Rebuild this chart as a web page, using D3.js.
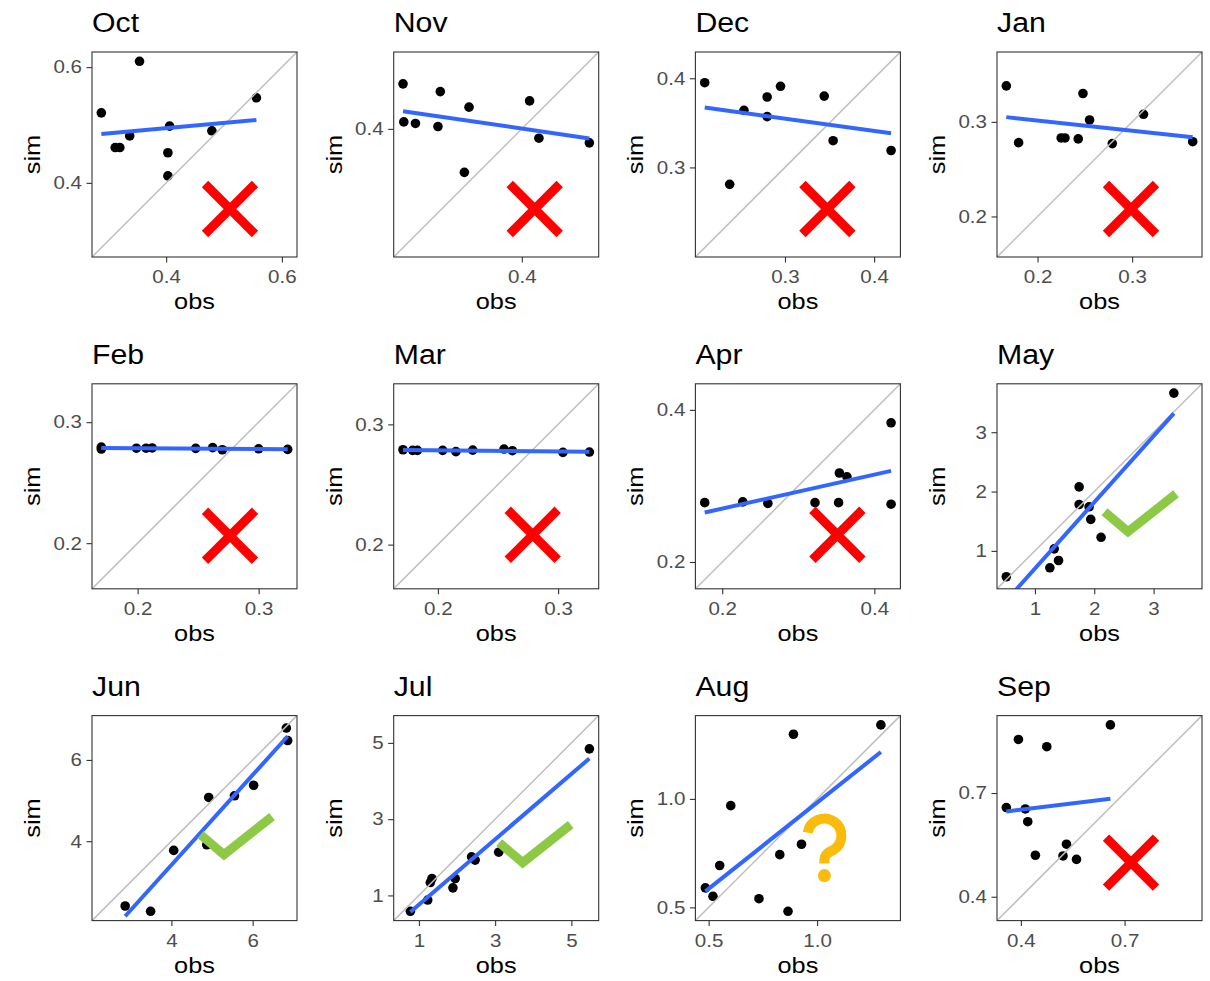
<!DOCTYPE html>
<html>
<head>
<meta charset="utf-8">
<script src="https://cdn.jsdelivr.net/npm/d3@7"></script>
<style>
  body { margin: 0; background: #fff; }
  svg { display: block; font-family: "Liberation Sans", Arial, sans-serif; }
  /* the reference glyphs run a bit wider than Liberation Sans */
  .wide { transform-box: fill-box; transform: scaleX(1.13); }
  .wide.mid { transform-origin: 50% 50%; }
  .wide.end { transform-origin: 100% 50%; }
  .wide.start { transform-origin: 0% 50%; }
</style>
</head>
<body>
<svg id="chart"></svg>
<script>
// Panel titles (one small scatter per month)
const months = ["Oct", "Nov", "Dec", "Jan", "Feb", "Mar", "Apr", "May", "Jun", "Jul", "Aug", "Sep"];

// Observed values, one list per month
const obsValues = [
    [0.288, 0.354, 0.312, 0.320, 0.337, 0.406, 0.403, 0.403, 0.479, 0.556],
    [0.247, 0.248, 0.263, 0.295, 0.292, 0.332, 0.326, 0.410, 0.422, 0.487],
    [0.210, 0.238, 0.254, 0.280, 0.280, 0.295, 0.344, 0.354, 0.419],
    [0.167, 0.180, 0.225, 0.229, 0.243, 0.248, 0.255, 0.279, 0.312, 0.364],
    [0.170, 0.170, 0.199, 0.207, 0.212, 0.248, 0.262, 0.270, 0.300, 0.324],
    [0.171, 0.179, 0.183, 0.204, 0.215, 0.229, 0.255, 0.262, 0.304, 0.326],
    [0.177, 0.227, 0.260, 0.322, 0.353, 0.354, 0.364, 0.422, 0.422],
    [0.518, 1.252, 1.398, 1.325, 1.745, 1.745, 1.913, 1.941, 2.115, 3.342],
    [2.862, 3.488, 4.057, 4.870, 4.919, 5.553, 6.024, 6.829, 6.862],
    [0.777, 1.232, 1.300, 1.343, 1.893, 1.953, 2.382, 2.476, 3.094, 5.472],
    [0.485, 0.520, 0.551, 0.602, 0.732, 0.828, 0.866, 0.891, 0.928, 1.294],
    [0.358, 0.393, 0.413, 0.420, 0.442, 0.475, 0.522, 0.532, 0.561, 0.659]
];

// Simulated values, same order as obsValues
const simValues = [
    [0.521, 0.610, 0.461, 0.461, 0.481, 0.498, 0.452, 0.412, 0.490, 0.547],
    [0.458, 0.409, 0.407, 0.448, 0.403, 0.428, 0.344, 0.436, 0.388, 0.382],
    [0.395, 0.281, 0.364, 0.379, 0.357, 0.391, 0.380, 0.330, 0.319],
    [0.338, 0.278, 0.283, 0.283, 0.282, 0.330, 0.302, 0.277, 0.308, 0.279],
    [0.2794, 0.2778, 0.2785, 0.2785, 0.2787, 0.2783, 0.2790, 0.2772, 0.2780, 0.2775],
    [0.2789, 0.2784, 0.2784, 0.2784, 0.2773, 0.2786, 0.2795, 0.2781, 0.2767, 0.2770],
    [0.278, 0.279, 0.277, 0.278, 0.278, 0.317, 0.312, 0.383, 0.276],
    [0.564, 0.715, 0.838, 1.034, 2.078, 1.782, 1.743, 1.531, 1.229, 3.659],
    [2.405, 2.275, 3.773, 3.911, 5.077, 5.117, 5.377, 6.785, 6.478],
    [0.584, 0.879, 1.338, 1.442, 1.199, 1.442, 2.013, 1.926, 2.134, 4.844],
    [0.590, 0.551, 0.693, 0.969, 0.540, 0.743, 0.482, 1.298, 0.791, 1.341],
    [0.658, 0.855, 0.654, 0.617, 0.520, 0.834, 0.518, 0.552, 0.508, 0.897]
];

// Tick labels per panel (same on both axes)
const tickLabels = [
    ["0.4", "0.6"], ["0.4"], ["0.3", "0.4"], ["0.2", "0.3"],
    ["0.2", "0.3"], ["0.2", "0.3"], ["0.2", "0.4"], ["1", "2", "3"],
    ["4", "6"], ["1", "3", "5"], ["0.5", "1.0"], ["0.4", "0.7"]
];

// Verdict drawn on each panel
const verdicts = ["cross", "cross", "cross", "cross", "cross", "cross", "cross",
    "check", "check", "check", "question", "cross"];

// Layout
const WIDTH = 1210, HEIGHT = 981;
const PANEL = 205;
const COL_X = [92, 393.7, 695.4, 997];
const ROW_Y = [52, 383.8, 715.6];
// where the verdict symbol sits inside each panel (px from panel top-left)
const MARK_POS = [
    [138, 157], [141, 157], [132, 157], [134, 157],
    [138, 152], [139, 151], [142, 151], [131, 148],
    [132, 139], [129, 147], [129, 120], [134, 147]
];

const TITLE_SIZE = 26.8, AXIS_TITLE_SIZE = 22.4, TICK_SIZE = 18.2;
const BORDER_COLOR = "#333333";
const TICK_TEXT_COLOR = "#4d4d4d";
const ONE_TO_ONE_COLOR = "#bebebe";
const FIT_COLOR = "#3366ff";
const CROSS_COLOR = "#ff0000";
const CHECK_COLOR = "#8dc945";
const QUESTION_COLOR = "#f9bb0c";

const svg = d3.select("#chart").attr("width", WIDTH).attr("height", HEIGHT);

// least squares fit of sim on obs
function linearFit(xs, ys) {
    const mx = d3.mean(xs), my = d3.mean(ys);
    let sxy = 0, sxx = 0;
    xs.forEach((v, k) => { sxy += (v - mx) * (ys[k] - my); sxx += (v - mx) ** 2; });
    const slope = sxy / sxx;
    return { slope, intercept: my - slope * mx };
}

months.forEach((month, i) => {
    const left = COL_X[i % 4], top = ROW_Y[Math.floor(i / 4)];
    const obs = obsValues[i], sim = simValues[i];
    const all = obs.concat(sim);
    const lo = d3.min(all), hi = d3.max(all);
    const pad = (hi - lo) * 0.05;
    const domain = [lo - pad, hi + pad];

    const x = d3.scaleLinear().domain(domain).range([0, PANEL]);
    const y = d3.scaleLinear().domain(domain).range([PANEL, 0]);
    const ticks = tickLabels[i].map(Number);
    const fmt = v => tickLabels[i][ticks.indexOf(v)];

    const g = svg.append("g").attr("transform", `translate(${left},${top})`);

    g.append("clipPath").attr("id", "clip" + i)
        .append("rect").attr("width", PANEL).attr("height", PANEL);

    g.append("rect")
        .attr("width", PANEL).attr("height", PANEL)
        .attr("fill", "#fff");

    const plot = g.append("g").attr("clip-path", `url(#clip${i})`);

    // points
    plot.selectAll("circle")
        .data(obs.map((v, k) => [v, sim[k]]))
        .join("circle")
        .attr("cx", d => x(d[0]))
        .attr("cy", d => y(d[1]))
        .attr("r", 4.8)
        .attr("fill", "#000");

    // 1:1 line
    plot.append("line")
        .attr("x1", x(domain[0])).attr("y1", y(domain[0]))
        .attr("x2", x(domain[1])).attr("y2", y(domain[1]))
        .attr("stroke", ONE_TO_ONE_COLOR)
        .attr("stroke-width", 1.5);

    // linear fit over the observed range
    const fit = linearFit(obs, sim);
    const [x0, x1] = d3.extent(obs);
    plot.append("line")
        .attr("x1", x(x0)).attr("y1", y(fit.intercept + fit.slope * x0))
        .attr("x2", x(x1)).attr("y2", y(fit.intercept + fit.slope * x1))
        .attr("stroke", FIT_COLOR)
        .attr("stroke-width", 4);

    // panel border
    g.append("rect")
        .attr("width", PANEL).attr("height", PANEL)
        .attr("fill", "none")
        .attr("stroke", BORDER_COLOR)
        .attr("stroke-width", 1.1);

    // axes
    const xAxis = g.append("g")
        .attr("transform", `translate(0,${PANEL})`)
        .call(d3.axisBottom(x).tickValues(ticks).tickFormat(fmt).tickSize(5.5).tickPadding(7.5));
    const yAxis = g.append("g")
        .call(d3.axisLeft(y).tickValues(ticks).tickFormat(fmt).tickSize(5.5).tickPadding(4.5));
    [xAxis, yAxis].forEach(ax => {
        ax.select(".domain").remove();
        ax.selectAll("line").attr("stroke", BORDER_COLOR).attr("stroke-width", 1.1);
        ax.selectAll("text")
            .attr("fill", TICK_TEXT_COLOR)
            .style("font-size", TICK_SIZE + "px")
            .style("font-family", '"Liberation Sans", Arial, sans-serif');
    });
    xAxis.selectAll("text").attr("class", "wide mid");
    yAxis.selectAll("text").attr("class", "wide end");

    // titles
    g.append("text")
        .attr("class", "wide start")
        .attr("x", 0).attr("y", -20)
        .style("font-size", TITLE_SIZE + "px")
        .text(month);

    g.append("text")
        .attr("class", "wide mid")
        .attr("x", PANEL / 2).attr("y", PANEL + 52.5)
        .attr("text-anchor", "middle")
        .style("font-size", AXIS_TITLE_SIZE + "px")
        .text("obs");

    g.append("g")
        .attr("transform", `translate(-52,${PANEL / 2}) rotate(-90)`)
        .append("text")
        .attr("class", "wide mid")
        .attr("text-anchor", "middle")
        .style("font-size", AXIS_TITLE_SIZE + "px")
        .text("sim");

    // verdict symbol
    const [mx, my] = MARK_POS[i];
    const mark = g.append("g").attr("transform", `translate(${mx},${my})`);
    if (verdicts[i] === "cross") {
        mark.append("path")
            .attr("d", "M-25,-25L25,25M25,-25L-25,25")
            .attr("stroke", CROSS_COLOR)
            .attr("stroke-width", 9)
            .attr("fill", "none");
    } else if (verdicts[i] === "check") {
        mark.append("path")
            .attr("d", "M-23.5,-20L0,0L48,-38")
            .attr("stroke", CHECK_COLOR)
            .attr("stroke-width", 9)
            .attr("stroke-linejoin", "miter")
            .attr("fill", "none");
    } else {
        const r = 17, a = 190 * Math.PI / 180, b = 58 * Math.PI / 180;
        mark.append("path")
            .attr("d", `M${r * Math.cos(a)},${r * Math.sin(a)}` +
                `A${r},${r} 0 1,1 ${r * Math.cos(b)},${r * Math.sin(b)}` +
                `Q0,18 0,24L0,28`)
            .attr("stroke", QUESTION_COLOR)
            .attr("stroke-width", 10)
            .attr("fill", "none");
        mark.append("circle")
            .attr("cx", 0).attr("cy", 40).attr("r", 6.5)
            .attr("fill", QUESTION_COLOR);
    }
});
</script>
</body>
</html>
